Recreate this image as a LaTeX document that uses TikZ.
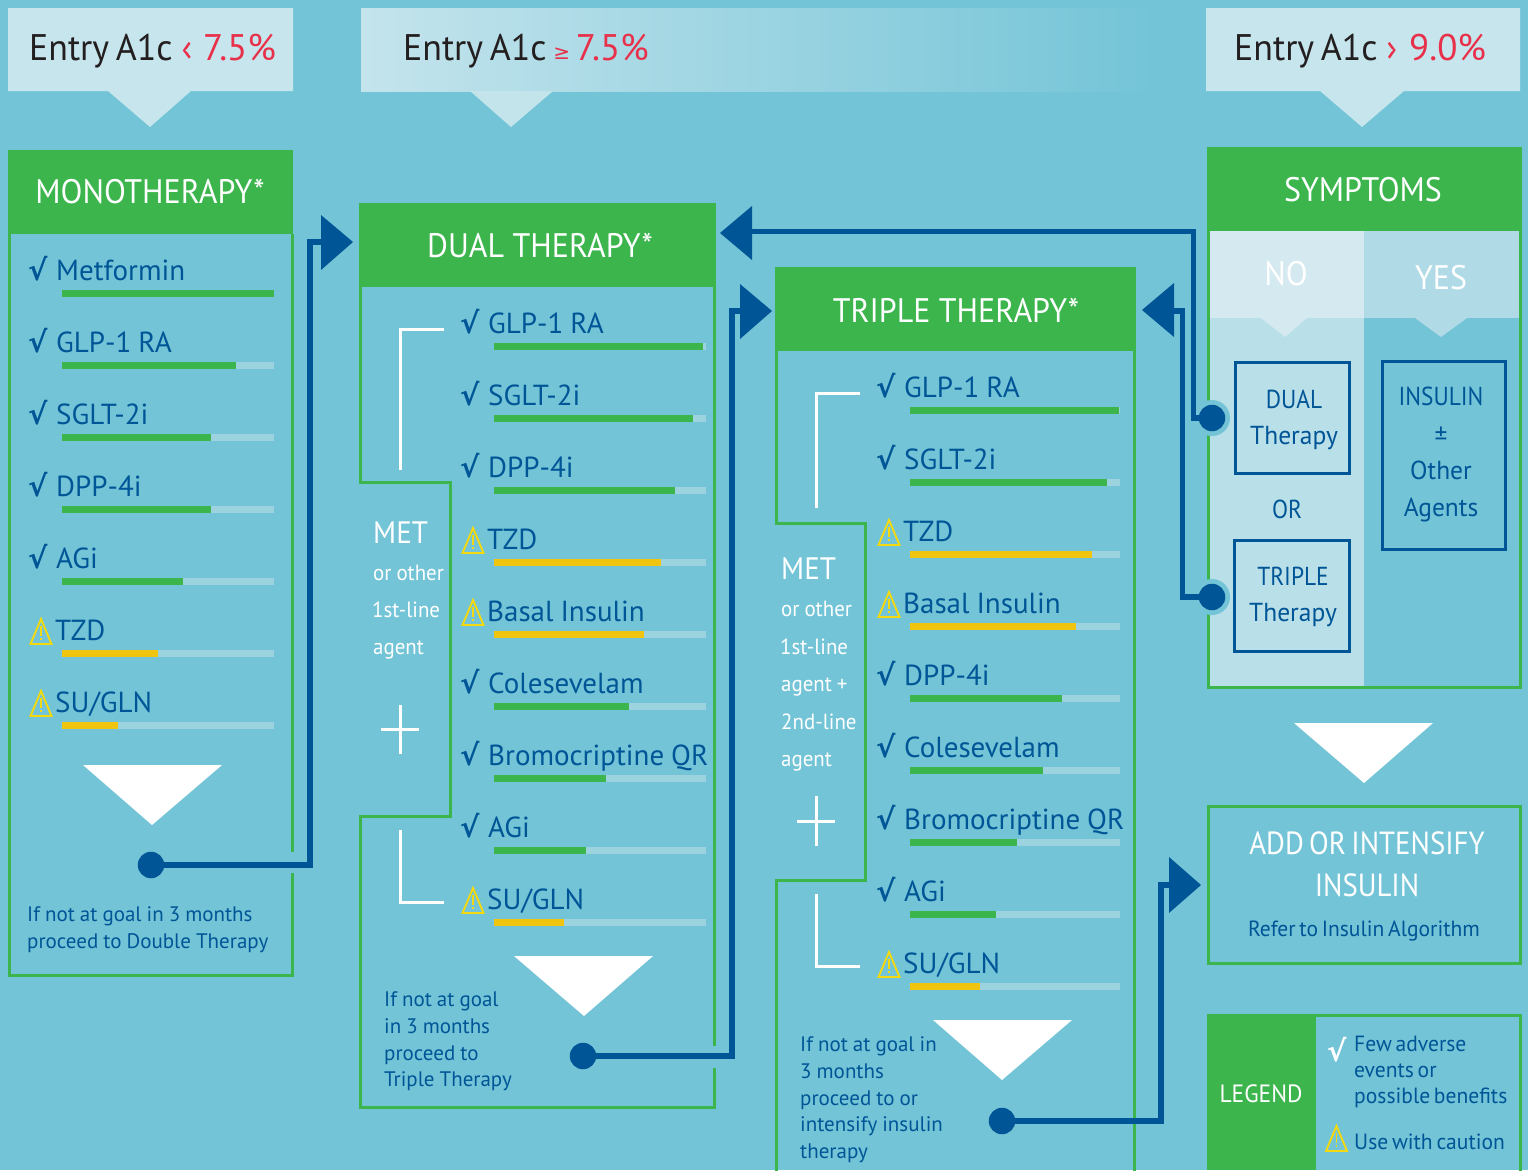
\documentclass[tikz,border=0pt]{standalone}
\usepackage{fontspec}
\setmainfont[FakeStretch=0.98,WordSpace=0.65]{PT Sans}
\newfontfamily\capsfont[FakeStretch=0.94,WordSpace=1.0]{PT Sans}
\newfontfamily\entryfont[FakeStretch=0.97,WordSpace=0.7]{PT Sans}
\newfontfamily\redfont[FakeStretch=1.0,WordSpace=0.7]{PT Sans}
\newfontfamily\drugfont[FakeStretch=1.0,WordSpace=0.65]{PT Sans}
\newfontfamily\notefont[FakeStretch=1.0,WordSpace=0.9]{PT Sans}
\newfontfamily\metfont[FakeStretch=0.95,WordSpace=0.9]{PT Sans}
\newfontfamily\tightfont[FakeStretch=0.9,WordSpace=0.7]{PT Sans}
\newfontfamily\symfont{DejaVu Sans}
\definecolor{bgc}{HTML}{73C4D7}
\definecolor{grn}{HTML}{3BB54C}
\definecolor{navy}{HTML}{005596}
\definecolor{amber}{HTML}{F1C40F}
\definecolor{warnc}{HTML}{F5D90F}
\definecolor{barbg}{HTML}{9DD2DF}
\definecolor{entryc}{HTML}{C6E5ED}
\definecolor{noc}{HTML}{D5E9F0}
\definecolor{nob}{HTML}{B9DFE8}
\definecolor{yesc}{HTML}{B0DAE6}
\definecolor{redc}{HTML}{E9304A}
\definecolor{inkc}{HTML}{231F20}
\newcommand{\fs}[1]{\fontsize{#1}{#1}\selectfont}
\tikzset{
 x=1pt,y=-1pt,
 head/.style={fill=grn,draw=none},
 headtxt/.style={text=white,font=\capsfont\fs{34},inner sep=0pt},
 frame/.style={draw=grn,line width=3pt,line cap=butt,line join=miter},
 flow/.style={draw=navy,line width=5.3pt,line join=miter},
 dot/.style={circle,fill=navy,minimum size=26.5pt,inner sep=0pt},
 drug/.style={text=navy,font=\drugfont\fs{29},anchor=base west,inner sep=0pt},
 small/.style={text=navy,font=\fs{22},inner sep=0pt,anchor=base west},
 note/.style={text=navy,font=\notefont\fs{21},inner sep=0pt,anchor=base west},
 met/.style={text=white,font=\metfont\fs{22},inner sep=0pt,anchor=base west},
 choice/.style={draw=navy,line width=2.8pt,inner sep=0pt},
 choicetxt/.style={text=navy,font=\fs{26},inner sep=0pt,anchor=base},
 capstxt/.style={text=navy,font=\tightfont\fs{26},inner sep=0pt,anchor=base},
 entry/.style={text=inkc,font=\entryfont\fs{37},anchor=base west,inner sep=0pt},
 bracket/.style={draw=white,line width=3pt},
 tri/.style={fill=white},
 ptr/.style={fill=navy},
}
\newcommand{\warn}[2]{% centre x, top y
 \draw[warnc,line width=1.9pt,line join=miter] (#1,#2+2) -- ++(-10.5,25) -- ++(21,0) -- cycle;
 \draw[warnc,line width=1.3pt] (#1,#2+9) -- ++(0,10) (#1,#2+21) -- ++(0,2);
}
\newcommand{\drugrow}[7]{% prefix, left, right, y, end, kind, text
 \fill[barbg] (#2,#4) rectangle (#3,#4+7);
 \if c#6
  \fill[grn] (#2,#4) rectangle (#5,#4+7);
  \node[text=navy,font=\symfont\bfseries\fs{29},anchor=base west,inner sep=0pt] (#1chk) at (#2-34,#4-10) {√};
  \node[drug] (#1) at (#2-6,#4-10) {#7};
 \else
  \fill[amber] (#2,#4) rectangle (#5,#4+7);
  \warn{#2-21}{#4-33}
  \node[drug] (#1) at (#2-7,#4-10) {#7};
 \fi
}
\begin{document}
\begin{tikzpicture}
\useasboundingbox (0,0) rectangle (1528,1170);
\fill[bgc] (0,0) rectangle (1528,1170);
% entry banners
\fill[entryc] (8,8) -- (293,8) -- (293,91) -- (191,91) -- (150,127) -- (108,91) -- (8,91) -- cycle;
\shade[left color=entryc!90!yesc,right color=bgc] (361,8) rectangle (1160,91);
\fill[entryc!90!yesc] (470,91) -- (553,91) -- (511,127) -- cycle;
\fill[entryc] (1206,8) -- (1520,8) -- (1520,91) -- (1404,91) -- (1362,127) -- (1320,91) -- (1206,91) -- cycle;
\node[entry] (e1) at (29,60) {Entry A1c \hspace{2pt}\textcolor{redc}{\redfont ‹ \hspace{2pt}7.5\%}};
\node[entry] (e2) at (403,60) {Entry A1c \textcolor{redc}{\redfont\raisebox{1pt}{\fs{20}\symfont≥} \hspace{-3pt}7.5\%}};
\node[entry] (e3) at (1234,60) {Entry A1c \hspace{2pt}\textcolor{redc}{\redfont › \hspace{3pt}9.0\%}};
% monotherapy
\draw[frame] (9,234) -- (9,975) -- (292,975) -- (292,873);
\draw[frame] (292,852) -- (292,234);
\fill[head] (8,150) rectangle (293,234);
\node[headtxt] (mono) at (150,192) {MONOTHERAPY*};
\drugrow{m1}{62}{274}{290}{274}{c}{Metformin}
\drugrow{m2}{62}{274}{362}{236}{c}{GLP-1 RA}
\drugrow{m3}{62}{274}{434}{211}{c}{SGLT-2i}
\drugrow{m4}{62}{274}{506}{211}{c}{DPP-4i}
\drugrow{m5}{62}{274}{578}{183}{c}{AGi}
\drugrow{m6}{62}{274}{650}{158}{w}{TZD}
\drugrow{m7}{62}{274}{722}{118}{w}{SU/GLN}
\fill[tri] (83,765) -- (222,765) -- (152,825) -- cycle;
\node[note] (mnote1) at (27,921) {If not at goal in 3 months};
\node[note] (mnote2) at (27,948) {proceed to Double Therapy};
% dual
\draw[frame] (360.5,287) -- (360.5,482.5) -- (450.5,482.5) -- (450.5,816.5) -- (360.5,816.5) -- (360.5,1107.5) -- (714.5,1107.5) -- (714.5,1068);
\draw[frame] (714.5,1046) -- (714.5,287);
\fill[head] (359,203) rectangle (716,287);
\node[headtxt] (dual) at (540,245) {DUAL THERAPY*};
\drugrow{d1}{494}{706}{343}{703}{c}{GLP-1 RA}
\drugrow{d2}{494}{706}{415}{693}{c}{SGLT-2i}
\drugrow{d3}{494}{706}{487}{675}{c}{DPP-4i}
\drugrow{d4}{494}{706}{559}{661}{w}{TZD}
\drugrow{d5}{494}{706}{631}{644}{w}{Basal Insulin}
\drugrow{d6}{494}{706}{703}{629}{c}{Colesevelam}
\drugrow{d7}{494}{706}{775}{606}{c}{Bromocriptine QR}
\drugrow{d8}{494}{706}{847}{586}{c}{AGi}
\drugrow{d9}{494}{706}{919}{564}{w}{SU/GLN}
\draw[bracket] (444,329) -- (400.5,329) -- (400.5,470);
\draw[bracket] (400.5,830) -- (400.5,902) -- (444,902);
\node[met,font=\capsfont\fs{31}] (dmet) at (373,543) {MET};
\node[met] (dm1) at (373,580) {or other};
\node[met] (dm2) at (372,617) {1st-line};
\node[met] (dm3) at (373,654) {agent};
\draw[bracket] (381,729) -- (419,729) (400,705) -- (400,754);
\fill[tri] (514,956) -- (653,956) -- (584,1016) -- cycle;
\node[note] (dn1) at (384,1006) {If not at goal};
\node[note] (dn2) at (384,1033) {in 3 months};
\node[note] (dn3) at (384,1060) {proceed to};
\node[note] (dn4) at (384,1086) {Triple Therapy};
% triple
\draw[frame] (776.5,351) -- (776.5,523.5) -- (865,523.5) -- (865,880.5) -- (776.5,880.5) -- (776.5,1172);
\draw[frame] (1134.5,351) -- (1134.5,1172);
\fill[head] (775,267) rectangle (1136,351);
\node[headtxt] (triple) at (956,310) {TRIPLE THERAPY*};
\drugrow{t1}{910}{1120}{407}{1119}{c}{GLP-1 RA}
\drugrow{t2}{910}{1120}{479}{1107}{c}{SGLT-2i}
\drugrow{t3}{910}{1120}{551}{1092}{w}{TZD}
\drugrow{t4}{910}{1120}{623}{1076}{w}{Basal Insulin}
\drugrow{t5}{910}{1120}{695}{1062}{c}{DPP-4i}
\drugrow{t6}{910}{1120}{767}{1043}{c}{Colesevelam}
\drugrow{t7}{910}{1120}{839}{1017}{c}{Bromocriptine QR}
\drugrow{t8}{910}{1120}{911}{996}{c}{AGi}
\drugrow{t9}{910}{1120}{983}{980}{w}{SU/GLN}
\draw[bracket] (860,393) -- (816.5,393) -- (816.5,508);
\draw[bracket] (816.5,894) -- (816.5,966) -- (860,966);
\node[met,font=\capsfont\fs{31}] (tmet) at (781,579) {MET};
\node[met] (tm1) at (781,616) {or other};
\node[met] (tm2) at (780,654) {1st-line};
\node[met] (tm3) at (781,691) {agent +};
\node[met] (tm4) at (781,729) {2nd-line};
\node[met] (tm5) at (781,766) {agent};
\draw[bracket] (797,821) -- (835,821) (816,796) -- (816,846);
\fill[tri] (933,1020) -- (1072,1020) -- (1002,1080) -- cycle;
\node[note] (tn1) at (800,1051) {If not at goal in};
\node[note] (tn2) at (800,1078) {3 months};
\node[note] (tn3) at (800,1105) {proceed to or};
\node[note] (tn4) at (800,1131) {intensify insulin};
\node[note] (tn5) at (800,1158) {therapy};
% symptoms
\fill[nob] (1210,318) rectangle (1364,687);
\fill[noc] (1210,231) rectangle (1364,318);
\fill[yesc] (1364,231) rectangle (1519,318);
\fill[noc] (1261,318) -- (1307,318) -- (1285,337) -- cycle;
\fill[yesc] (1415,318) -- (1467,318) -- (1441,337) -- cycle;
\draw[frame] (1208.5,231) -- (1208.5,687.5) -- (1520.5,687.5) -- (1520.5,231);
\fill[head] (1207,147) rectangle (1522,231);
\node[headtxt] (sym) at (1363,190) {SYMPTOMS};
\node[text=white,font=\capsfont\fs{34},inner sep=0pt] (no) at (1286,274) {NO};
\node[text=white,font=\capsfont\fs{34},inner sep=0pt] (yes) at (1441,278) {YES};
\draw[choice] (1235.4,362.4) rectangle (1349.6,473.6);
\draw[choice] (1234.4,540.4) rectangle (1349.6,651.6);
\draw[choice] (1382.4,361.4) rectangle (1505.6,549.6);
\node[capstxt] (a1) at (1294,408) {DUAL};
\node[choicetxt] (a2) at (1294,444) {Therapy};
\node[capstxt] (or) at (1287,518) {OR};
\node[capstxt] (b1) at (1293,585) {TRIPLE};
\node[choicetxt] (b2) at (1293,621) {Therapy};
\node[capstxt] (c1) at (1441,405) {INSULIN};
\node[choicetxt] (c2) at (1441,444) {±};
\node[choicetxt] (c3) at (1441,479) {Other};
\node[choicetxt] (c4) at (1441,516) {Agents};
\fill[tri] (1294,723) -- (1433,723) -- (1364,783) -- cycle;
% add or intensify
\draw[frame] (1208.5,806) rectangle (1520.5,963.5);
\node[text=white,font=\tightfont\fs{32},inner sep=0pt] (add1) at (1367,843) {ADD OR INTENSIFY};
\node[text=white,font=\tightfont\fs{32},inner sep=0pt] (add2) at (1367,885) {INSULIN};
\node[small,anchor=base] (add3) at (1364,936) {Refer to Insulin Algorithm};
% legend
\draw[frame] (1316,1015.5) -- (1520.5,1015.5) -- (1520.5,1172);
\fill[head] (1207,1014) rectangle (1316,1170);
\node[text=white,font=\capsfont\fs{25},inner sep=0pt] (leg) at (1261,1094) {LEGEND};
\node[text=white,font=\symfont\bfseries\fs{29},anchor=base west,inner sep=0pt] (lchk) at (1327,1061) {√};
\node[small] (l1) at (1354,1051) {Few adverse};
\node[small] (l2) at (1354,1077) {events or};
\node[small] (l3) at (1354,1103) {possible benefits};
\warn{1336.5}{1124}
\node[small] (l4) at (1354,1149) {Use with caution};
% connectors
\coordinate (head1) at (321,242);
\coordinate (head2) at (740,311);
\coordinate (head3) at (1169,885);
\coordinate (head4) at (752,231.5);
\coordinate (head5) at (1174,311);
\coordinate (via1) at (310,600);
\coordinate (via2) at (732,600);
\coordinate (via3) at (1161,1000);
\coordinate (via4) at (1193.5,300);
\coordinate (via5) at (1182.5,400);
\node[dot] (dot1) at (151,865) {};
\node[dot] (dot2) at (583,1056) {};
\node[dot] (dot3) at (1002,1121) {};
\fill[bgc] (1212,418) circle (18);
\fill[bgc] (1212,597) circle (18);
\node[dot] (dot4) at (1212,418) {};
\node[dot] (dot5) at (1212,597) {};
\draw[flow] (dot1.center) -| (via1) |- (head1);
\draw[flow] (dot2.center) -| (via2) |- (head2);
\draw[flow] (dot3.center) -| (via3) |- (head3);
\draw[flow] (dot4.center) -| (via4) |- (head4);
\draw[flow] (dot5.center) -| (via5) |- (head5);
\fill[ptr] (321,215) -- (353,242) -- (321,270) -- cycle;
\fill[ptr] (740,284) -- (772,311) -- (740,339) -- cycle;
\fill[ptr] (1169,857) -- (1201,885) -- (1169,913) -- cycle;
\fill[ptr] (752,206) -- (720,233) -- (752,260) -- cycle;
\fill[ptr] (1174,283) -- (1142,310) -- (1174,337) -- cycle;
\end{tikzpicture}
\end{document}
